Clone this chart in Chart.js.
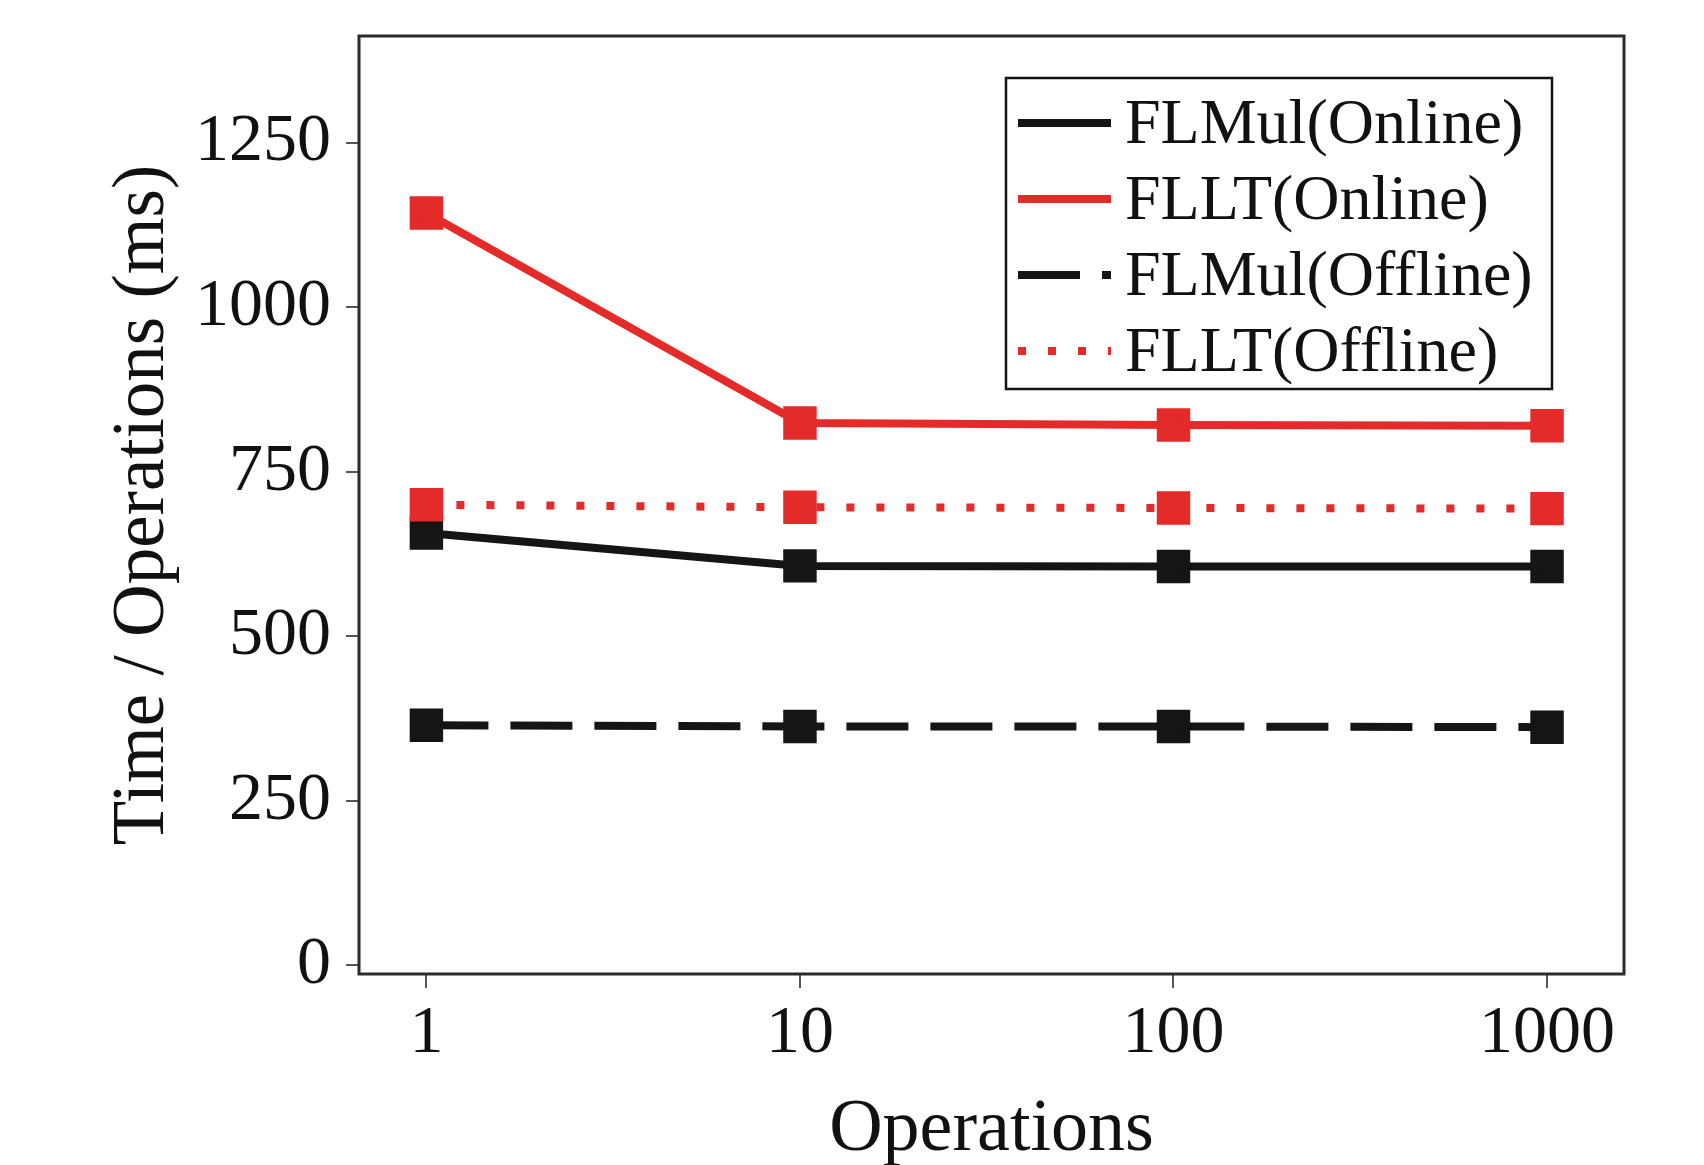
<!DOCTYPE html>
<html>
<head>
<meta charset="utf-8">
<script src="https://cdn.jsdelivr.net/npm/chart.js@4.4.1/dist/chart.umd.min.js"></script>
<style>
  html, body { margin: 0; padding: 0; background: #fff; }
  #wrap { width: 1704px; height: 1165px; }
</style>
</head>
<body>
<div id="wrap"><canvas id="myChart"></canvas></div>
<script>
// values
const operations = [1, 10, 100, 1000];
const flmulOnline = [657, 607, 606, 606];
const flltOnline = [1143, 824, 821, 820];
const flmulOffline = [365, 363, 363, 362];
const flltOffline = [700, 696, 695, 694];
const yTickValues = [0, 250, 500, 750, 1000, 1250];

const RED = '#e42b29';
const BLACK = '#151515';
const serif = '"Liberation Serif", "Times New Roman", serif';

let points = (vals) => operations.map((x, i) => ({ x: x, y: vals[i] }));

// frame round the plot + boxed legend inside it
const frameAndLegend = {
  id: 'frameAndLegend',
  afterDatasetsDraw(chart) {
    const ctx = chart.ctx;
    const area = chart.chartArea;
    ctx.save();
    ctx.setLineDash([]);
    ctx.strokeStyle = '#2b2b2b';
    ctx.lineWidth = 3;
    ctx.strokeRect(area.left, area.top, area.right - area.left, area.bottom - area.top);

    const w = 546, h = 311;
    const left = area.right - 72 - w;
    const top = area.top + 42;
    ctx.fillStyle = '#fff';
    ctx.fillRect(left, top, w, h);
    ctx.lineWidth = 2.5;
    ctx.strokeStyle = '#111';
    ctx.strokeRect(left, top, w, h);

    ctx.font = '64px ' + serif;
    ctx.textBaseline = 'middle';
    ctx.textAlign = 'left';
    chart.data.datasets.forEach((ds, i) => {
      const y = top + 45 + i * 76;
      ctx.beginPath();
      ctx.setLineDash(ds.borderDash || []);
      ctx.lineCap = 'butt';
      ctx.lineWidth = ds.borderWidth;
      ctx.strokeStyle = ds.borderColor;
      ctx.moveTo(left + 12, y);
      ctx.lineTo(left + 105, y);
      ctx.stroke();
      ctx.setLineDash([]);
      ctx.fillStyle = '#111';
      ctx.fillText(ds.label, left + 119, y + 3);
    });
    ctx.restore();
  }
};

let ctx = document.getElementById('myChart').getContext('2d');
let chart = new Chart(ctx, {
  type: 'line',
  data: {
    datasets: [{
      label: 'FLMul(Online)',
      data: points(flmulOnline),
      borderColor: BLACK,
      backgroundColor: BLACK,
      borderWidth: 8,
      order: 4
    }, {
      label: 'FLLT(Online)',
      data: points(flltOnline),
      borderColor: RED,
      backgroundColor: RED,
      borderWidth: 8,
      order: 3
    }, {
      label: 'FLMul(Offline)',
      data: points(flmulOffline),
      borderColor: BLACK,
      backgroundColor: BLACK,
      borderWidth: 8,
      borderDash: [62, 22],
      order: 2
    }, {
      label: 'FLLT(Offline)',
      data: points(flltOffline),
      borderColor: RED,
      backgroundColor: RED,
      borderWidth: 8,
      borderDash: [8, 22],
      order: 1
    }]
  },
  options: {
    responsive: true,
    maintainAspectRatio: false,
    animation: false,
    layout: { padding: { top: 36, right: 80, left: 0, bottom: 0 } },
    elements: {
      line: { tension: 0, borderCapStyle: 'butt' },
      point: { pointStyle: 'rect', radius: 18, borderWidth: 1, hoverRadius: 18 }
    },
    plugins: {
      legend: { display: false },
      tooltip: { enabled: false }
    },
    scales: {
      x: {
        type: 'logarithmic',
        min: 0.66,
        max: 1607,
        afterBuildTicks: (s) => { s.ticks = operations.map(v => ({ value: v })); },
        afterFit: (s) => { s.height = 191; s.paddingLeft = 0; s.paddingRight = 0; },
        border: { display: false },
        grid: { drawOnChartArea: false, drawTicks: true, tickLength: 14, color: '#555', lineWidth: 2 },
        ticks: {
          font: { family: serif, size: 68, lineHeight: 1 },
          color: '#111',
          padding: 12,
          maxRotation: 0,
          autoSkip: false,
          callback: (v) => String(v)
        },
        title: {
          display: true,
          text: 'Operations',
          color: '#111',
          font: { family: serif, size: 74, lineHeight: 0.92 },
          padding: { top: 0, bottom: 0 }
        }
      },
      y: {
        min: -13,
        max: 1412,
        afterBuildTicks: (s) => { s.ticks = yTickValues.map(v => ({ value: v })); },
        afterFit: (s) => { s.width = 359; s.paddingTop = 0; s.paddingBottom = 0; },
        border: { display: false },
        grid: { drawOnChartArea: false, drawTicks: true, tickLength: 13, color: '#555', lineWidth: 2 },
        ticks: {
          font: { family: serif, size: 68, lineHeight: 1 },
          color: '#111',
          padding: 15,
          callback: (v) => String(v)
        },
        title: {
          display: true,
          text: 'Time / Operations (ms)',
          color: '#111',
          font: { family: serif, size: 73, lineHeight: 1.1 },
          padding: { top: 104, bottom: 0 }
        }
      }
    }
  },
  plugins: [frameAndLegend]
});
</script>
</body>
</html>
